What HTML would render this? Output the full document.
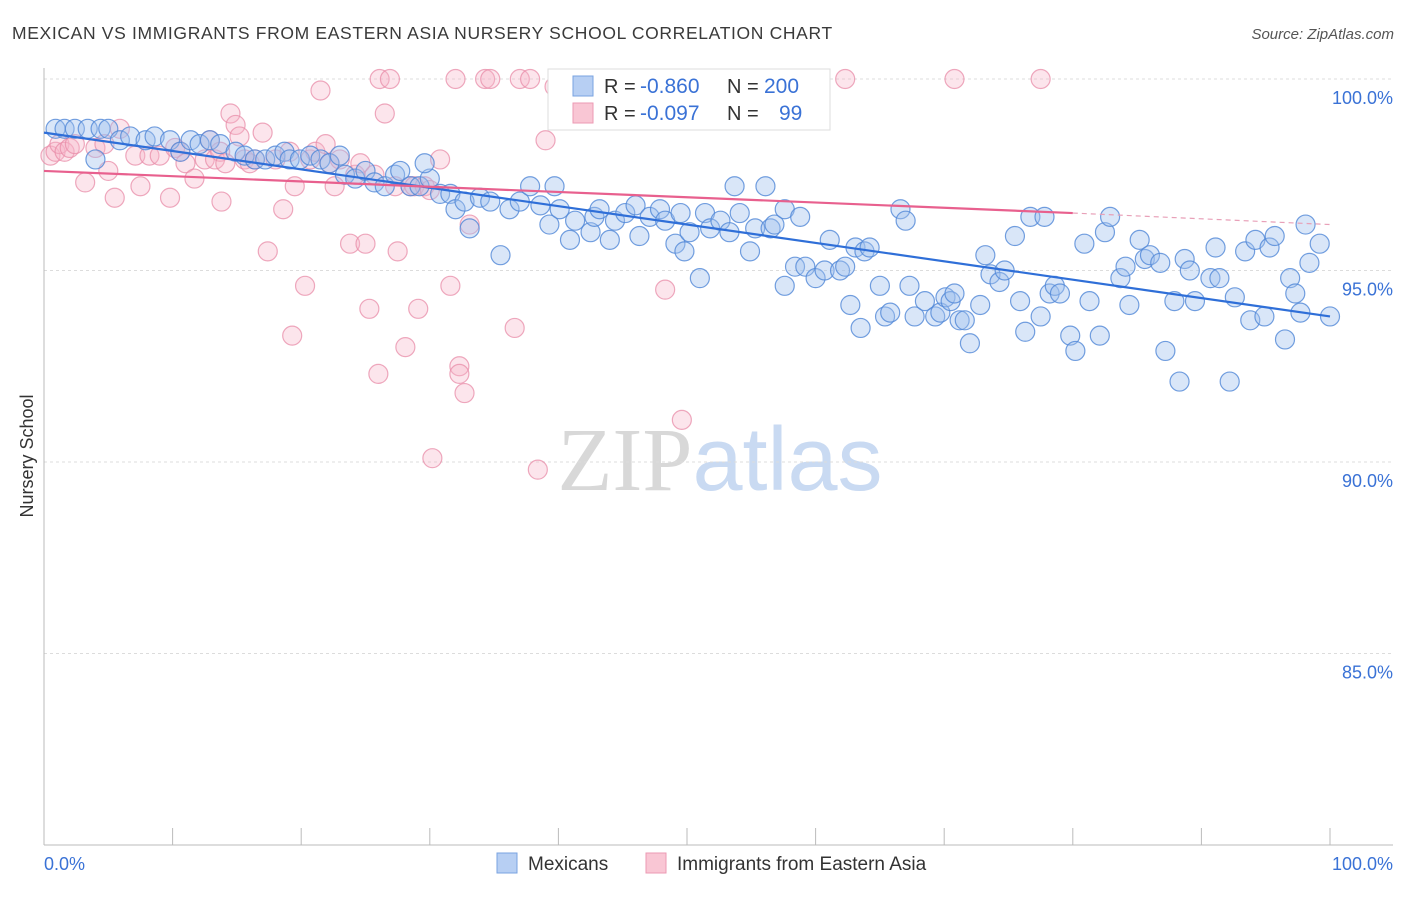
<!DOCTYPE html>
<html><head><meta charset="utf-8"><style>
body{margin:0;background:#fff;font-family:"Liberation Sans",sans-serif;}
svg text{font-family:"Liberation Sans",sans-serif;}
</style></head><body>
<svg id="chart" width="1406" height="892" viewBox="0 0 1406 892" xmlns="http://www.w3.org/2000/svg">
<text x="12" y="39" font-size="17.5" fill="#3a3a3a" letter-spacing="0.65">MEXICAN VS IMMIGRANTS FROM EASTERN ASIA NURSERY SCHOOL CORRELATION CHART</text>
<text x="1394" y="39" font-size="15" fill="#555" text-anchor="end" font-style="italic">Source: ZipAtlas.com</text>
<text x="720" y="490" font-size="90" text-anchor="middle"><tspan fill="#d8d8d8" font-family="Liberation Serif">ZIP</tspan><tspan fill="#c9daf2">atlas</tspan></text>
<text transform="translate(33,456) rotate(-90)" font-size="18" fill="#333" text-anchor="middle">Nursery School</text>
<g id="grid"></g><g id="axes"></g><g id="pink"></g><g id="blue"></g><g id="trend"></g>
<g>
<rect x="548" y="69" width="282" height="61" fill="#fff" stroke="#ddd"/>
<rect x="573" y="76" width="20" height="20" fill="#b7cff3" stroke="#7aa3e0"/>
<rect x="573" y="103" width="20" height="20" fill="#f9c6d4" stroke="#ec9ab3"/>
<text x="604" y="93" font-size="20" fill="#333">R =</text>
<text x="640" y="93" font-size="21" fill="#3a72d6">-0.860</text>
<text x="727" y="93" font-size="20" fill="#333">N =</text>
<text x="764" y="93" font-size="21" fill="#3a72d6">200</text>
<text x="604" y="120" font-size="20" fill="#333">R =</text>
<text x="640" y="120" font-size="21" fill="#3a72d6">-0.097</text>
<text x="727" y="120" font-size="20" fill="#333">N =</text>
<text x="779" y="120" font-size="21" fill="#3a72d6">99</text>
</g>
<g>
<rect x="497" y="853" width="20" height="20" fill="#b7cff3" stroke="#7aa3e0"/>
<text x="528" y="870" font-size="19" fill="#333">Mexicans</text>
<rect x="646" y="853" width="20" height="20" fill="#f9c6d4" stroke="#ec9ab3"/>
<text x="677" y="870" font-size="19" fill="#333">Immigrants from Eastern Asia</text>
</g>
</svg>
<script>
const yTicks=[100,95,90,85];
const yTickLabels=["100.0%","95.0%","90.0%","85.0%"];
const xTicks=[0,10,20,30,40,50,60,70,80,90,100];
const blueX=[0.9,1.6,2.4,3.4,4.4,5.0,4.0,5.9,6.7,7.9,8.6,9.8,10.6,11.4,12.1,12.9,13.7,14.9,15.6,16.4,17.2,18.0,18.7,19.1,19.9,20.7,21.5,22.2,23.0,23.4,24.2,25.0,25.7,26.5,27.3,27.7,28.5,29.2,30.0,29.6,30.8,31.6,32.0,32.7,33.1,33.9,34.7,35.5,36.2,37.0,37.8,38.6,39.3,39.7,40.1,40.9,41.3,42.5,42.8,43.2,44.0,44.4,45.2,46.0,46.3,47.1,47.9,48.3,49.1,49.5,49.8,50.2,51.0,51.4,51.8,52.6,53.3,53.7,54.1,54.9,55.3,56.1,56.5,56.8,57.6,57.6,58.4,58.8,59.2,60.0,60.7,61.1,61.9,62.3,62.7,63.1,63.5,63.8,64.2,65.0,65.4,65.8,66.6,67.0,67.3,67.7,68.5,69.3,69.7,70.1,70.5,70.8,71.2,71.6,72.0,72.8,73.2,73.6,74.3,74.7,75.5,75.9,76.3,76.7,77.5,77.8,78.2,78.6,79.0,79.8,80.2,80.9,81.3,82.1,82.5,82.9,83.7,84.1,84.4,85.2,85.6,86.0,86.8,87.2,87.9,88.3,88.7,89.1,89.5,90.7,91.1,91.4,92.2,92.6,93.4,93.8,94.2,94.9,95.3,95.7,96.5,96.9,97.3,97.7,98.1,98.4,99.2,100];
const blueY=[98.7,98.7,98.7,98.7,98.7,98.7,97.9,98.4,98.5,98.4,98.5,98.4,98.1,98.4,98.3,98.4,98.3,98.1,98.0,97.9,97.9,98.0,98.1,97.9,97.9,98.0,97.9,97.8,98.0,97.5,97.4,97.6,97.3,97.2,97.5,97.6,97.2,97.2,97.4,97.8,97.0,97.0,96.6,96.8,96.1,96.9,96.8,95.4,96.6,96.8,97.2,96.7,96.2,97.2,96.6,95.8,96.3,96.0,96.4,96.6,95.8,96.3,96.5,96.7,95.9,96.4,96.6,96.3,95.7,96.5,95.5,96.0,94.8,96.5,96.1,96.3,96.0,97.2,96.5,95.5,96.1,97.2,96.1,96.2,96.6,94.6,95.1,96.4,95.1,94.8,95.0,95.8,95.0,95.1,94.1,95.6,93.5,95.5,95.6,94.6,93.8,93.9,96.6,96.3,94.6,93.8,94.2,93.8,93.9,94.3,94.2,94.4,93.7,93.7,93.1,94.1,95.4,94.9,94.7,95.0,95.9,94.2,93.4,96.4,93.8,96.4,94.4,94.6,94.4,93.3,92.9,95.7,94.2,93.3,96.0,96.4,94.8,95.1,94.1,95.8,95.3,95.4,95.2,92.9,94.2,92.1,95.3,95.0,94.2,94.8,95.6,94.8,92.1,94.3,95.5,93.7,95.8,93.8,95.6,95.9,93.2,94.8,94.4,93.9,96.2,95.2,95.7,93.8];
const pinkX=[0.5,0.9,1.2,1.6,2.0,2.4,3.2,4.0,4.7,5.0,5.5,5.9,7.1,7.5,8.2,9.0,9.8,10.2,10.6,11.0,11.7,12.5,12.9,13.3,13.7,13.8,14.1,14.5,14.9,15.2,15.6,16.0,16.4,17.0,17.4,18.0,18.6,19.1,19.3,19.5,20.3,20.7,21.1,21.5,21.9,22.2,22.6,23.0,23.8,24.2,24.6,25.0,25.3,25.7,26.0,26.1,26.5,26.9,27.3,27.5,28.1,28.5,28.8,29.1,29.6,30.0,30.2,30.8,31.6,32.0,32.3,32.3,32.7,33.1,34.3,34.7,36.6,37.0,37.8,38.4,39.0,39.7,40.5,41.3,43.2,44.0,48.3,49.6,52.6,55.3,62.3,70.8,77.5];
const pinkY=[98.0,98.1,98.3,98.1,98.2,98.3,97.3,98.2,98.3,97.6,96.9,98.7,98.0,97.2,98.0,98.0,96.9,98.2,98.1,97.8,97.4,97.9,98.4,97.9,98.1,96.8,97.8,99.1,98.8,98.5,97.9,97.8,97.9,98.6,95.5,97.9,96.6,98.1,93.3,97.2,94.6,97.9,98.1,99.7,98.3,97.8,97.2,97.9,95.7,97.5,97.8,95.7,94.0,97.5,92.3,100,99.1,100,97.2,95.5,93.0,97.2,97.2,94.0,97.2,97.1,90.1,97.9,94.6,100,92.5,92.3,91.8,96.2,100,100,93.5,100,100,89.8,98.4,99.8,100,100,100,100,94.5,91.1,100,100,100,100,100];
const blueTrendX=[0,100];
const blueTrendY=[98.6,93.8];
const pinkTrendX=[0,80,100];
const pinkTrendY=[97.6,96.5,96.2];

const NS="http://www.w3.org/2000/svg";
const X0=44,X1=1330,YB=845,YT=79;
function sx(v){return X0+(X1-X0)*v/100;}
function sy(v){return YT+(100-v)*(YB-YT)/20;}
function mk(tag,attrs,parent){const e=document.createElementNS(NS,tag);for(const k in attrs)e.setAttribute(k,attrs[k]);document.getElementById(parent).appendChild(e);return e;}
yTicks.forEach((t,i)=>{
  const g=mk('line',{x1:X0,x2:1393,y1:sy(t),y2:sy(t),stroke:'#dcdcdc','stroke-dasharray':'3,3'},'grid');
  
  
  const l=mk('text',{x:1393,y:sy(t)+25,'font-size':18,fill:'#3a72d6','text-anchor':'end'},'grid');
  l.textContent=yTickLabels[i];
  
  
});
const ax=mk('line',{x1:X0,x2:1393,y1:YB,y2:YB,stroke:'#bbb'},'axes');


const ay=mk('line',{x1:X0,x2:X0,y1:68,y2:YB,stroke:'#bbb'},'axes');


xTicks.forEach(t=>{
  const k=mk('line',{x1:sx(t),x2:sx(t),y1:828,y2:845,stroke:'#bbb'},'axes');
  
  
});
const xl0=mk('text',{x:44,y:870,'font-size':18,fill:'#3a72d6'},'axes');xl0.textContent='0.0%';


const xl1=mk('text',{x:1393,y:870,'font-size':18,fill:'#3a72d6','text-anchor':'end'},'axes');xl1.textContent='100.0%';


pinkX.forEach((v,i)=>{
  const c=mk('circle',{cx:sx(v),cy:sy(pinkY[i]),r:9.5,fill:'rgba(246,180,200,0.35)',stroke:'rgba(232,140,168,0.75)','stroke-width':1.2},'pink');
  
  
});
blueX.forEach((v,i)=>{
  const c=mk('circle',{cx:sx(v),cy:sy(blueY[i]),r:9.5,fill:'rgba(160,192,238,0.4)',stroke:'rgba(80,135,215,0.8)','stroke-width':1.2},'blue');
  
  
});
const bt=mk('line',{x1:sx(blueTrendX[0]),y1:sy(blueTrendY[0]),x2:sx(blueTrendX[1]),y2:sy(blueTrendY[1]),stroke:'#2f6fd8','stroke-width':2.2},'trend');


const pt=mk('line',{x1:sx(pinkTrendX[0]),y1:sy(pinkTrendY[0]),x2:sx(pinkTrendX[1]),y2:sy(pinkTrendY[1]),stroke:'#e8608e','stroke-width':2.2},'trend');


const pd=mk('line',{x1:sx(pinkTrendX[1]),y1:sy(pinkTrendY[1]),x2:sx(pinkTrendX[2]),y2:sy(pinkTrendY[2]),stroke:'#e8a0b8','stroke-width':1.2,'stroke-dasharray':'5,4'},'trend');


</script>
</body></html>
